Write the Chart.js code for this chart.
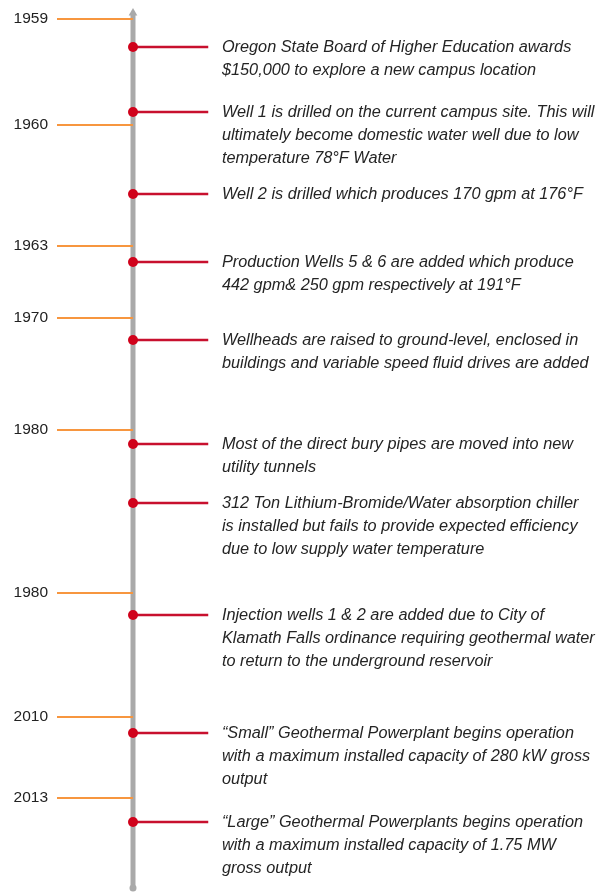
<!DOCTYPE html>
<html>
<head>
<meta charset="utf-8">
<title>Geothermal timeline</title>
<script src="https://cdn.jsdelivr.net/npm/chart.js@4.4.0/dist/chart.umd.min.js"></script>
<style>
    html, body { margin: 0; padding: 0; background: #fff; }
    #wrap { width: 603px; height: 894px; }
</style>
</head>
<body>
<div id="wrap"><canvas id="timelineChart"></canvas></div>
<script>
// timeline positions (0 = top of page, grows downward)
const yearLabels = ['1959', '1960', '1963', '1970', '1980', '1980', '2010', '2013'];
const yearPositions = [19, 125, 246, 318, 430, 593, 717, 798];

const eventPositions = [47, 112, 194, 262, 340, 444, 503, 615, 733, 822];
const eventTexts = [
    ['Oregon State Board of Higher Education awards', '$150,000 to explore a new campus location'],
    ['Well 1 is drilled on the current campus site. This will', 'ultimately become domestic water well due to low', 'temperature 78\u00b0F Water'],
    ['Well 2 is drilled which produces 170 gpm at 176\u00b0F'],
    ['Production Wells 5 & 6 are added which produce', '442 gpm& 250 gpm respectively at 191\u00b0F'],
    ['Wellheads are raised to ground-level, enclosed in', 'buildings and variable speed fluid drives are added'],
    ['Most of the direct bury pipes are moved into new', 'utility tunnels'],
    ['312 Ton Lithium-Bromide/Water absorption chiller', 'is installed but fails to provide expected efficiency', 'due to low supply water temperature'],
    ['Injection wells 1 & 2 are added due to City of', 'Klamath Falls ordinance requiring geothermal water', 'to return to the underground reservoir'],
    ['\u201cSmall\u201d Geothermal Powerplant begins operation', 'with a maximum installed capacity of 280 kW gross', 'output'],
    ['\u201cLarge\u201d Geothermal Powerplants begins operation', 'with a maximum installed capacity of 1.75 MW', 'gross output']
];

const axisStart = 13;
const axisEnd = 888;

const ctx = document.getElementById('timelineChart').getContext('2d');

const datasets = [];

datasets.push({
    label: 'axis',
    data: [{ x: 0, y: axisStart }, { x: 0, y: axisEnd }],
    showLine: true,
    borderColor: '#a9a9a9',
    borderWidth: 5,
    pointStyle: ['triangle', 'circle'],
    pointRadius: [5, 3.5],
    pointBackgroundColor: '#a9a9a9',
    pointBorderWidth: 0,
    order: 10
});

yearPositions.forEach((pos, i) => {
    datasets.push({
        label: yearLabels[i],
        data: [{ x: -1, y: pos }, { x: 0, y: pos }],
        showLine: true,
        borderColor: '#f7963f',
        borderWidth: 2,
        pointRadius: 0,
        order: 5
    });
});

eventPositions.forEach((pos, i) => {
    datasets.push({
        label: 'event ' + (i + 1),
        data: [{ x: 0, y: pos }, { x: 0.99, y: pos }],
        showLine: true,
        borderColor: '#c8102e',
        borderWidth: 2.5,
        pointRadius: [5, 0],
        pointBackgroundColor: '#d0021b',
        pointBorderWidth: 0,
        order: 1
    });
});

const textPlugin = {
    id: 'timelineText',
    afterDatasetsDraw(chart) {
        const c = chart.ctx;
        const xs = chart.scales.x;
        const ys = chart.scales.y;
        c.save();
        c.textBaseline = 'middle';

        c.font = '15.5px "Liberation Sans", Arial, sans-serif';
        c.fillStyle = '#222';
        c.textAlign = 'right';
        yearLabels.forEach((label, i) => {
            c.fillText(label, xs.getPixelForValue(-1) - 9, ys.getPixelForValue(yearPositions[i]));
        });

        c.font = 'italic 16.3px "Liberation Sans", Arial, sans-serif';
        c.fillStyle = '#242424';
        c.textAlign = 'left';
        eventTexts.forEach((lines, i) => {
            const top = ys.getPixelForValue(eventPositions[i]);
            lines.forEach((line, j) => {
                c.fillText(line, xs.getPixelForValue(1.17), top + j * 23);
            });
        });
        c.restore();
    }
};

const chart = new Chart(ctx, {
    type: 'scatter',
    data: { datasets: datasets },
    options: {
        responsive: true,
        maintainAspectRatio: false,
        animation: false,
        layout: { padding: 0, autoPadding: false },
        plugins: {
            legend: { display: false },
            tooltip: { enabled: false }
        },
        scales: {
            x: { display: false, min: -133 / 76, max: (603 - 133) / 76 },
            y: { display: false, reverse: true, min: 0, max: 894 }
        }
    },
    plugins: [textPlugin]
});
</script>
</body>
</html>
